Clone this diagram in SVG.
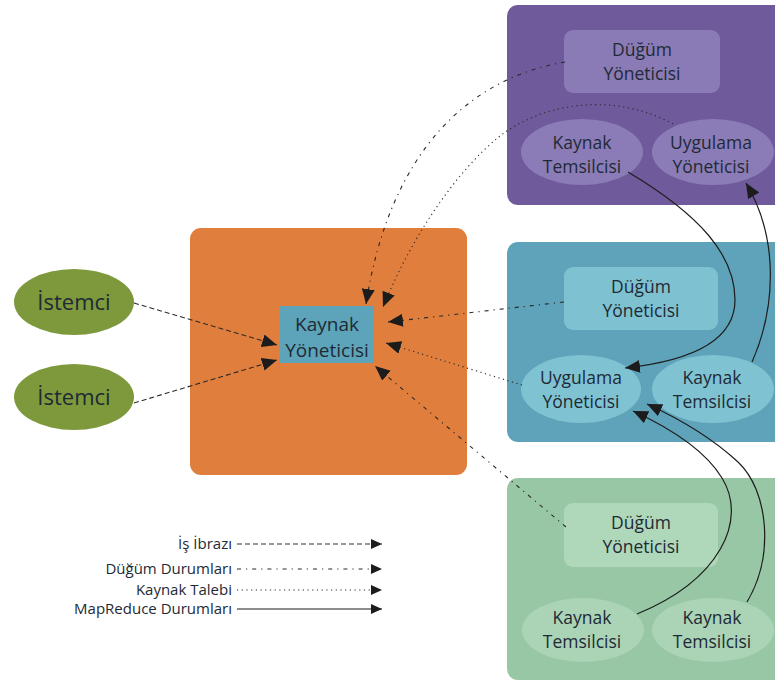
<svg xmlns="http://www.w3.org/2000/svg" width="775" height="682" viewBox="0 0 775 682">
  <defs>
    <marker id="arrow" markerUnits="userSpaceOnUse" markerWidth="17" markerHeight="15" refX="15" refY="6.5" orient="auto">
      <path d="M0,0 L15,6.5 L0,13 z" fill="#1c1c1c"/>
    </marker>
    <marker id="arrowSmall" markerUnits="userSpaceOnUse" markerWidth="13" markerHeight="12" refX="11" refY="5" orient="auto">
      <path d="M0,0 L11,5 L0,10 z" fill="#1c1c1c"/>
    </marker>
  </defs>
  <style>
    text { font-family: "Open Sans", "Noto Sans", "Liberation Sans", sans-serif; fill: #1e2a35; text-anchor: middle; }
    .node-text { font-size: 17.5px; }
    .big-text { font-size: 19px; }
    .client-text { font-size: 22px; }
    .legend-text { font-size: 15px; text-anchor: end; }
    .conn { fill: none; stroke: #2a2a2a; stroke-width: 1.1; }
    .submit { stroke-dasharray: 5 3; }
    .status { stroke-dasharray: 4 5 1.2 5; }
    .request { stroke-dasharray: 1.2 3.5; }
    .mr { stroke: #1c1c1c; stroke-width: 1.2; }
  </style>

  <rect width="775" height="682" fill="#ffffff"/>

  <!-- cluster panels -->
  <g id="panel-purple">
    <rect x="507" y="5" width="290" height="200" rx="11" fill="#6f5a9b"/>
  </g>
  <g id="panel-teal">
    <rect x="507" y="242" width="290" height="200" rx="11" fill="#5ea3b9"/>
  </g>
  <g id="panel-green">
    <rect x="507" y="478" width="290" height="202" rx="11" fill="#98c7a6"/>
  </g>
  <g id="panel-orange">
    <rect x="190" y="228" width="277" height="247" rx="11" fill="#e07e3d"/>
  </g>

  <!-- resource manager -->
  <g id="kaynak-yoneticisi">
    <rect x="280" y="306" width="94" height="57" fill="#5da4ba"/>
    <text class="big-text" x="327" y="331">Kaynak</text>
    <text class="big-text" x="327" y="357">Yöneticisi</text>
  </g>

  <!-- clients -->
  <g id="istemci-1">
    <ellipse cx="74" cy="302" rx="60" ry="33" fill="#7d993b"/>
    <text class="client-text" x="74" y="310">İstemci</text>
  </g>
  <g id="istemci-2">
    <ellipse cx="74" cy="397" rx="60" ry="33" fill="#7d993b"/>
    <text class="client-text" x="74" y="405">İstemci</text>
  </g>

  <!-- purple node -->
  <g id="dugum-yoneticisi-1">
    <rect x="564" y="30" width="156" height="63" rx="9" fill="#8a7ab5"/>
    <text class="node-text" x="642" y="56">Düğüm</text>
    <text class="node-text" x="642" y="80">Yöneticisi</text>
  </g>
  <g id="kaynak-temsilcisi-1">
    <ellipse cx="582" cy="152" rx="61" ry="33" fill="#8b7cb8"/>
    <text class="node-text" x="582" y="149">Kaynak</text>
    <text class="node-text" x="582" y="173">Temsilcisi</text>
  </g>
  <g id="uygulama-yoneticisi-1">
    <ellipse cx="713" cy="152" rx="61" ry="33" fill="#8b7cb8"/>
    <text class="node-text" x="711" y="149">Uygulama</text>
    <text class="node-text" x="711" y="173">Yöneticisi</text>
  </g>

  <!-- teal node -->
  <g id="dugum-yoneticisi-2">
    <rect x="564" y="267" width="154" height="63" rx="9" fill="#7ec1d1"/>
    <text class="node-text" x="641" y="293">Düğüm</text>
    <text class="node-text" x="641" y="317">Yöneticisi</text>
  </g>
  <g id="uygulama-yoneticisi-2">
    <ellipse cx="581" cy="389" rx="60" ry="34" fill="#7fc3d3"/>
    <text class="node-text" x="581" y="384">Uygulama</text>
    <text class="node-text" x="581" y="408">Yöneticisi</text>
  </g>
  <g id="kaynak-temsilcisi-2">
    <ellipse cx="713" cy="389" rx="61" ry="34" fill="#7fc3d3"/>
    <text class="node-text" x="712" y="384">Kaynak</text>
    <text class="node-text" x="712" y="408">Temsilcisi</text>
  </g>

  <!-- green node -->
  <g id="dugum-yoneticisi-3">
    <rect x="564" y="503" width="154" height="64" rx="9" fill="#afd7ba"/>
    <text class="node-text" x="641" y="529">Düğüm</text>
    <text class="node-text" x="641" y="553">Yöneticisi</text>
  </g>
  <g id="kaynak-temsilcisi-3">
    <ellipse cx="583" cy="630" rx="61" ry="32" fill="#aad4b5"/>
    <text class="node-text" x="582" y="624">Kaynak</text>
    <text class="node-text" x="582" y="648">Temsilcisi</text>
  </g>
  <g id="kaynak-temsilcisi-4">
    <ellipse cx="713" cy="630" rx="61" ry="32" fill="#aad4b5"/>
    <text class="node-text" x="712" y="624">Kaynak</text>
    <text class="node-text" x="712" y="648">Temsilcisi</text>
  </g>

  <!-- connectors -->
  <g id="connectors">
    <!-- job submission -->
    <path class="conn submit" d="M134,303 L277,345" marker-end="url(#arrow)"/>
    <path class="conn submit" d="M134,403 L277,360" marker-end="url(#arrow)"/>
    <!-- node statuses -->
    <path class="conn status" d="M565,62 C470,78 390,150 366,304" marker-end="url(#arrow)"/>
    <path class="conn status" d="M564,302 L388,322" marker-end="url(#arrow)"/>
    <path class="conn status" d="M566,527 L375,366" marker-end="url(#arrow)"/>
    <!-- resource requests -->
    <path class="conn request" d="M673,124 C610,90 540,105 500,136 C455,172 410,240 383,307" marker-end="url(#arrow)"/>
    <path class="conn request" d="M522,385 L386,343" marker-end="url(#arrow)"/>
    <!-- MapReduce statuses -->
    <path class="conn mr" d="M628,172 C700,215 735,255 735,300 C735,345 680,362 625,368" marker-end="url(#arrow)"/>
    <path class="conn mr" d="M752,362 C775,310 780,240 746,183" marker-end="url(#arrow)"/>
    <path class="conn mr" d="M637,614 C720,580 748,520 722,478 C705,450 670,428 633,411" marker-end="url(#arrow)"/>
    <path class="conn mr" d="M747,602 C775,555 768,490 738,462 C712,438 682,420 647,404" marker-end="url(#arrow)"/>
  </g>

  <!-- legend -->
  <g id="legend">
    <text class="legend-text" x="232" y="549">İş İbrazı</text>
    <path class="conn submit" d="M237,544 L382,544" marker-end="url(#arrowSmall)"/>
    <text class="legend-text" x="232" y="574">Düğüm Durumları</text>
    <path class="conn status" d="M237,569 L382,569" marker-end="url(#arrowSmall)"/>
    <text class="legend-text" x="232" y="595">Kaynak Talebi</text>
    <path class="conn request" d="M237,590 L382,590" marker-end="url(#arrowSmall)"/>
    <text class="legend-text" x="232" y="614">MapReduce Durumları</text>
    <path class="conn mr" d="M237,609 L382,609" marker-end="url(#arrowSmall)"/>
  </g>
</svg>
